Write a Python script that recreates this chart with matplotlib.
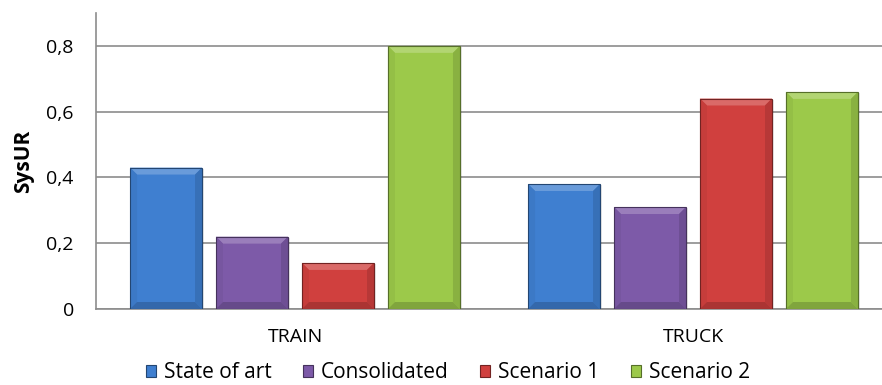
import matplotlib
matplotlib.use("Agg")
import matplotlib.pyplot as plt
from matplotlib.patches import Rectangle, Polygon, Patch
import matplotlib.colors as mcolors
import numpy as np

categories = ["TRAIN", "TRUCK"]
series_names = ["State of art", "Consolidated", "Scenario 1", "Scenario 2"]
state_of_art = [0.43, 0.38]
consolidated = [0.22, 0.31]
scenario_1 = [0.14, 0.64]
scenario_2 = [0.80, 0.66]
y_ticks = [0, 0.2, 0.4, 0.6, 0.8]
y_tick_labels = ["0", "0,2", "0,4", "0,6", "0,8"]

series = [state_of_art, consolidated, scenario_1, scenario_2]
colors = ["#3f7fd0", "#7d5aa8", "#d0403e", "#9cc94a"]

plt.rcParams["font.family"] = ["Open Sans", "DejaVu Sans"]

fig = plt.figure(figsize=(8.82, 3.85), dpi=100)
# plot area runs a little past the right edge of the canvas
ax = fig.add_axes([96 / 882, 1 - 309 / 385, 796 / 882, 296 / 385])

x = np.arange(len(categories))
bar_w = 0.181
step = 0.216
offsets = (np.arange(len(series)) - 1.5) * step

ymax = 0.9
# bevel size, ~7 px in data units
bx = 7 / 398
by = 7 / 330


def shade(c, f):
    r, g, b = mcolors.to_rgb(c)
    if f > 1:
        return (r + (1 - r) * (f - 1), g + (1 - g) * (f - 1), b + (1 - b) * (f - 1))
    return (r * f, g * f, b * f)


def bevel_bar(x0, w, h, color):
    # soft drop shadow
    ax.add_patch(Rectangle((x0 + 0.004, -0.004), w, h, facecolor="#000000",
                           alpha=0.10, linewidth=0, zorder=2))
    ax.add_patch(Rectangle((x0, 0), w, h, facecolor=color, linewidth=0, zorder=3))
    x1 = x0 + w
    top = Polygon([(x0, h), (x1, h), (x1 - bx, h - by), (x0 + bx, h - by)],
                  facecolor=shade(color, 1.22), linewidth=0, zorder=4)
    left = Polygon([(x0, 0), (x0, h), (x0 + bx, h - by), (x0 + bx, by)],
                   facecolor=shade(color, 0.95), linewidth=0, zorder=4)
    right = Polygon([(x1, 0), (x1, h), (x1 - bx, h - by), (x1 - bx, by)],
                    facecolor=shade(color, 0.88), linewidth=0, zorder=4)
    bottom = Polygon([(x0, 0), (x1, 0), (x1 - bx, by), (x0 + bx, by)],
                     facecolor=shade(color, 0.82), linewidth=0, zorder=4)
    for p in (top, left, right, bottom):
        ax.add_patch(p)
    ax.add_patch(Rectangle((x0, 0), w, h, facecolor="none",
                           edgecolor=shade(color, 0.55), linewidth=0.8, zorder=5))


for i, vals in enumerate(series):
    for j, v in enumerate(vals):
        bevel_bar(x[j] + offsets[i] - bar_w / 2, bar_w, v, colors[i])

ax.set_xlim(-0.5, 1.5)
ax.set_ylim(0, ymax)
ax.set_yticks(y_ticks)
ax.set_yticklabels(y_tick_labels)
ax.set_xticks(x)
ax.set_xticklabels(categories)
ax.yaxis.grid(True, color="#8c8c8c", linewidth=1.2)
ax.set_axisbelow(True)
for s in ("top", "right"):
    ax.spines[s].set_visible(False)
ax.spines["left"].set_color("#8c8c8c")
ax.spines["bottom"].set_color("#8c8c8c")
ax.spines["left"].set_linewidth(1.2)
ax.spines["bottom"].set_linewidth(1.2)
ax.tick_params(axis="both", length=0, labelsize=14, colors="black")
ax.tick_params(axis="y", pad=16)
ax.tick_params(axis="x", pad=14)
ax.set_ylabel("SysUR", fontsize=15, fontweight="bold", labelpad=9)

handles = [Patch(facecolor=c, edgecolor=shade(c, 0.55), linewidth=0.8) for c in colors]
fig.legend(handles, series_names, loc="center", bbox_to_anchor=(448 / 882, 1 - 373 / 385),
           ncol=4, frameon=False, fontsize=15, handlelength=0.48, handleheight=0.48,
           handletextpad=0.38, columnspacing=1.5)

fig.savefig("out.png", dpi=100)
